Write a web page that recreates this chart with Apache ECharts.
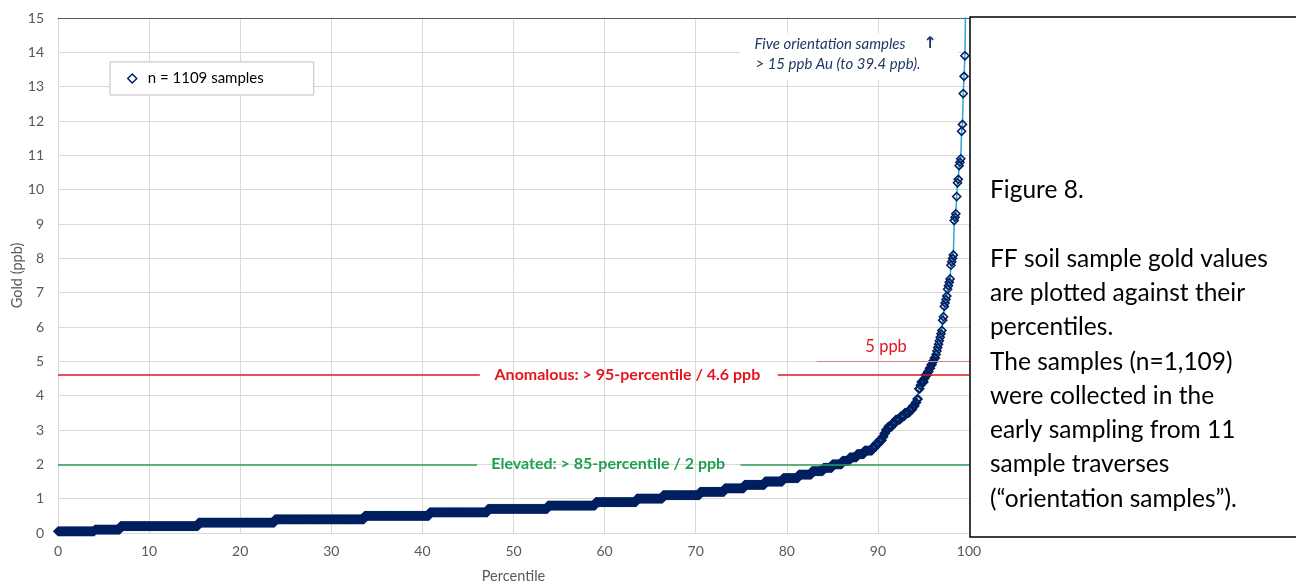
<!DOCTYPE html>
<html><head><meta charset="utf-8">
<script src="https://cdn.jsdelivr.net/npm/echarts@6/dist/echarts.min.js"></script>
<style>html,body{margin:0;padding:0;background:#fff}#c{width:1296px;height:583px}</style>
</head><body><div id="c"></div>
<script>
// ---- data ----
const N = 1109; // number of samples
// bulk of the distribution: gold level (ppb) and percentile where that level's run ends
const stepLevels = [0.05,0.1,0.2,0.3,0.4,0.5,0.6,0.7,0.8,0.9,1.0,1.1,1.2,1.3,1.4,1.5,1.6,1.7,1.8,1.9,2.0,2.1,2.2,2.3,2.4,2.5,2.6,2.7,2.8,2.9,3.0,3.1,3.2,3.3,3.4,3.5,3.6,3.7,3.8,3.9,4.2,4.3,4.4];
const stepEndPct = [4.1,6.9,15.4,23.8,33.7,40.8,47.2,53.8,59.0,63.5,66.4,70.5,73.2,75.4,77.6,79.6,81.3,82.8,84.0,85.0,86.1,86.9,87.7,88.5,89.4,89.8,90.2,90.5,90.7,90.9,91.2,91.6,92.0,92.5,93.0,93.5,93.9,94.1,94.3,94.5,94.7,94.8,95.0];
// highest individual samples (ascending), ppb
const topValues = [4.5,4.6,4.6,4.6,4.7,4.7,4.8,4.8,4.9,4.9,5.0,5.0,5.1,5.1,5.2,5.3,5.4,5.5,5.6,5.7,5.8,5.9,6.2,6.3,6.6,6.7,6.8,6.9,7.1,7.2,7.3,7.4,7.8,7.9,8.0,8.1,9.1,9.2,9.3,9.8,10.2,10.3,10.7,10.8,10.9,11.7,11.9,12.8,13.3,13.9,15.6,17.5,21.0,26.0,39.4];
// thresholds
const thresholdNames = ['Anomalous: > 95-percentile / 4.6 ppb', 'Elevated: > 85-percentile / 2 ppb', '5 ppb'];
const thresholdValues = [4.6, 2, 5];
const xTicks = [0,10,20,30,40,50,60,70,80,90,100];
const yTicks = [0,1,2,3,4,5,6,7,8,9,10,11,12,13,14,15];

// ---- build sample table ----
const points = [];
let r = 0;
const bulkCount = N - topValues.length;
stepLevels.forEach((v, i) => {
  const end = i === stepLevels.length - 1 ? bulkCount : Math.min(bulkCount, Math.round(stepEndPct[i] / 100 * (N - 1)));
  while (r < end) { points.push([r / (N - 1) * 100, v]); r++; }
});
topValues.forEach(v => { points.push([r / (N - 1) * 100, v]); r++; });

const RED = '#e3161d', GREEN = '#1fa04f', NAVY = '#002060', FONT = 'Lato';
const lbl = (t, c, w, s) => ({show: true, position: 'inside', formatter: t, color: c, fontWeight: w, fontSize: s, fontFamily: FONT});

const chart = echarts.init(document.getElementById('c'), null, {renderer: 'canvas'});
chart.setOption({
  animation: false,
  textStyle: {fontFamily: FONT},
  grid: {left: 58, right: 327, top: 18, bottom: 50, containLabel: false, outerBoundsMode: 'none'},
  legend: {
    left: 110, top: 62, icon: 'diamond', itemWidth: 9, itemHeight: 9,
    padding: [9, 50, 9, 17], borderColor: '#bfbfbf', borderWidth: 1, backgroundColor: '#fff',
    selectedMode: false,
    textStyle: {fontSize: 15, color: '#000', fontFamily: FONT, padding: [0, 0, 0, 6]},
    itemStyle: {color: 'rgba(0,0,0,0)', borderColor: NAVY, borderWidth: 1.5}
  },
  xAxis: [{
    type: 'value', min: xTicks[0], max: xTicks[xTicks.length - 1], interval: 10,
    axisLine: {show: true, lineStyle: {color: '#d9d9d9'}}, axisTick: {show: false},
    axisLabel: {color: '#595959', fontSize: 14, margin: 11, fontFamily: FONT},
    splitLine: {show: true, lineStyle: {color: '#d9d9d9'}},
    name: 'Percentile', nameLocation: 'middle', nameGap: 36, nameMoveOverlap: false,
    nameTextStyle: {color: '#595959', fontSize: 14.5, fontFamily: FONT}
  }, {
    type: 'value', position: 'top', min: 0, max: 100,
    axisLine: {show: true, lineStyle: {color: '#595959'}}, axisTick: {show: false},
    axisLabel: {show: false}, splitLine: {show: false}
  }],
  yAxis: {
    type: 'value', min: yTicks[0], max: yTicks[yTicks.length - 1], interval: 1,
    axisLine: {show: false}, axisTick: {show: false},
    axisLabel: {color: '#595959', fontSize: 14, margin: 14, fontFamily: FONT},
    splitLine: {show: true, lineStyle: {color: '#d9d9d9'}},
    name: 'Gold (ppb)', nameLocation: 'middle', nameGap: 33, nameMoveOverlap: false,
    nameTextStyle: {color: '#595959', fontSize: 14.5, fontFamily: FONT}
  },
  series: [{
    type: 'line', name: `n = ${N} samples`, data: points,
    symbol: 'diamond', symbolSize: 8, showSymbol: true, clip: true,
    lineStyle: {color: '#2aa6dd', width: 1.5},
    itemStyle: {color: 'rgba(0,0,0,0)', borderColor: NAVY, borderWidth: 1.6},
    emphasis: {disabled: true}, z: 3,
    markLine: {
      silent: true, symbol: ['none', 'none'], label: {show: false}, animation: false,
      data: [
        [{coord: [0, thresholdValues[0]], lineStyle: {color: RED, width: 1.5, type: 'solid'}}, {coord: [46.3, thresholdValues[0]]}],
        [{coord: [79.0, thresholdValues[0]], lineStyle: {color: RED, width: 1.5, type: 'solid'}}, {coord: [100, thresholdValues[0]]}],
        [{coord: [0, thresholdValues[1]], lineStyle: {color: '#2e9e58', width: 1.5, type: 'solid'}}, {coord: [46.0, thresholdValues[1]]}],
        [{coord: [74.9, thresholdValues[1]], lineStyle: {color: '#2e9e58', width: 1.5, type: 'solid'}}, {coord: [100, thresholdValues[1]]}],
        [{coord: [83.3, thresholdValues[2]], lineStyle: {color: '#d4868c', width: 1, type: 'solid'}}, {coord: [100, thresholdValues[2]]}]
      ]
    },
    markPoint: {
      silent: true, symbol: 'circle', symbolSize: 0, animation: false,
      data: [
        {coord: [62.5, thresholdValues[0]], label: lbl(thresholdNames[0], RED, 'bold', 16)},
        {coord: [60.4, thresholdValues[1]], label: lbl(thresholdNames[1], GREEN, 'bold', 16)},
        {coord: [90.9, thresholdValues[2] + 0.42], label: lbl(thresholdNames[2], RED, 'normal', 16.5)}
      ]
    }
  }],
  graphic: [
    {type: 'rect', z: 20, shape: {x: 740, y: 33, width: 218, height: 47}, style: {fill: '#fff'}},
    {type: 'text', z: 21, x: 830, y: 44, style: {text: 'Five orientation samples', font: 'italic 15px Lato', fill: '#1f3864', align: 'center', verticalAlign: 'middle'}},
    {type: 'text', z: 21, x: 930, y: 44, style: {text: '↑', font: 'bold 16px "DejaVu Sans"', fill: '#1f3864', align: 'center', verticalAlign: 'middle'}},
    {type: 'text', z: 21, x: 838, y: 64, style: {text: '> 15 ppb Au (to ' + topValues[topValues.length - 1] + ' ppb).', font: 'italic 15px Lato', fill: '#1f3864', align: 'center', verticalAlign: 'middle'}},
    {type: 'rect', z: 30, shape: {x: 970, y: 17, width: 340, height: 520}, style: {fill: '#fff', stroke: '#000', lineWidth: 1.5}},
    {type: 'text', z: 31, x: 990, y: 173, style: {
      text: 'Figure 8.\n\nFF soil sample gold values\nare plotted against their\npercentiles.\nThe samples (n=1,109)\nwere collected in the\nearly sampling from 11\nsample traverses\n(\u201corientation samples\u201d).',
      font: '24.5px Lato', lineHeight: 34.3, fill: '#000', align: 'left', verticalAlign: 'top'}}
  ]
});
</script></body></html>
